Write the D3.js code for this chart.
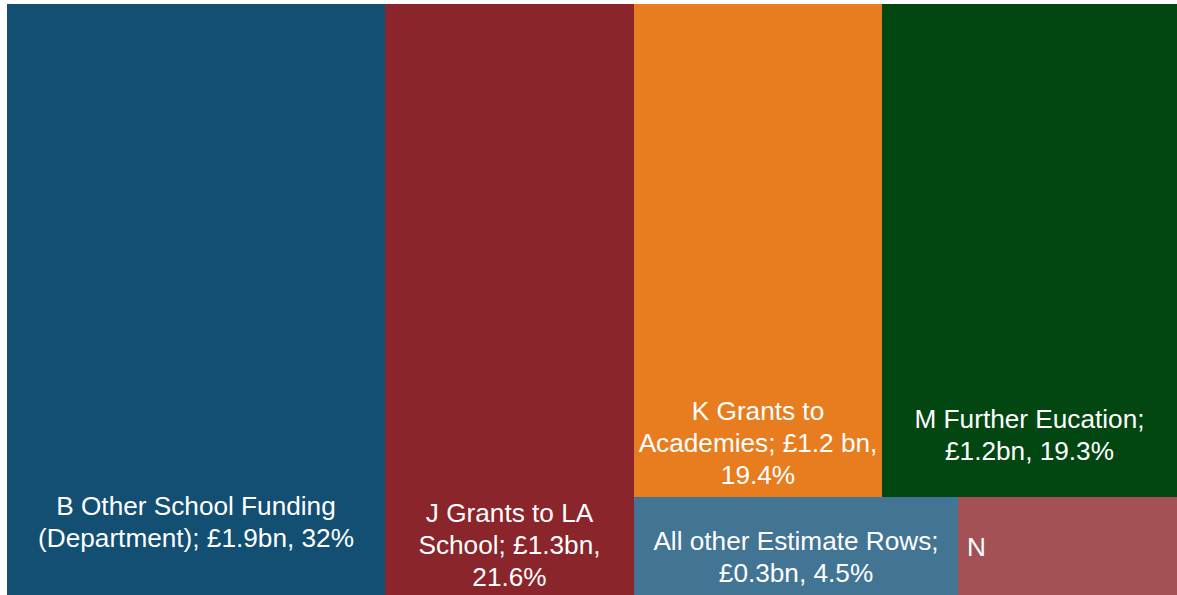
<!DOCTYPE html>
<html lang="en">
<head>
    <meta charset="utf-8">
    <title>Schools funding treemap</title>
    <script type="text/javascript" src="https://d3js.org/d3.v7.min.js"></script>
    <style>
        body { margin: 0; background: #ffffff; }
        svg { display: block; }
        .tile-label { font-family: "Liberation Sans", Arial, sans-serif; font-size: 26.2px; fill: #ffffff; }
    </style>
</head>
<body>
    <div id="viz"></div>

    <script type="text/javascript">
        // estimate rows
        const codes = ["B", "J", "K", "M", "Other", "N"];
        const labels = [
            ["B Other School Funding", "(Department); £1.9bn, 32%"],
            ["J Grants to LA", "School; £1.3bn,", "21.6%"],
            ["K Grants to", "Academies; £1.2 bn,", "19.4%"],
            ["M Further Eucation;", "£1.2bn, 19.3%"],
            ["All other Estimate Rows;", "£0.3bn, 4.5%"],
            ["N"]
        ];
        // share of the drawn area (%), measured off the tiles
        const tileShare = [32.3, 21.3, 17.7, 21.0, 4.6, 3.1];
        // which block each row sits in
        const blocks = [null, null, "top", "top", "bottom", "bottom"];

        const colors = ["#124f73", "#8a252b", "#e77d1f", "#024612", "#427494", "#a35155"];

        const width = 1177;
        const height = 595;
        const margin = {top: 4, left: 7, right: 0, bottom: 0};

        // label placement: baseline of first line above tile bottom
        const labelLift = {B: 80, J: 73, K: 77, M: 69, Other: 45, N: 39};
        const lineHeight = 32;

        // build nested data: B, J, then a block of two rows
        const rest = {name: "rest", children: []};
        const rootData = {name: "root", children: []};
        codes.forEach((c, i) => {
            const leaf = {name: c, value: tileShare[i], lines: labels[i], color: colors[i]};
            if (blocks[i] === null) {
                rootData.children.push(leaf);
            } else {
                let row = rest.children.find(r => r.name === blocks[i]);
                if (!row) {
                    row = {name: blocks[i], children: []};
                    rest.children.push(row);
                }
                row.children.push(leaf);
            }
        });
        rootData.children.push(rest);

        const root = d3.hierarchy(rootData).sum(d => d.value || 0);

        d3.treemap()
            .tile(d3.treemapSliceDice)
            .size([width - margin.left - margin.right, height - margin.top - margin.bottom])
            .paddingInner(0)
            .round(true)(root);

        const svg = d3.select("#viz")
            .append("svg")
            .attr("width", width)
            .attr("height", height);

        const g = svg.append("g")
            .attr("transform", `translate(${margin.left},${margin.top})`);

        const leaves = g.selectAll("g.tile")
            .data(root.leaves())
            .enter()
            .append("g")
            .attr("class", "tile");

        leaves.append("rect")
            .attr("x", d => d.x0)
            .attr("y", d => d.y0)
            .attr("width", d => d.x1 - d.x0)
            .attr("height", d => d.y1 - d.y0)
            .attr("fill", d => d.data.color)
            .attr("shape-rendering", "crispEdges");

        leaves.each(function(d) {
            const isN = d.data.name === "N";
            const text = d3.select(this).append("text")
                .attr("class", "tile-label")
                .attr("text-anchor", isN ? "start" : "middle");
            const x = isN ? d.x0 + 9 : (d.x0 + d.x1) / 2;
            const y = d.y1 - labelLift[d.data.name];
            d.data.lines.forEach((line, i) => {
                text.append("tspan")
                    .attr("x", x)
                    .attr("y", y + i * lineHeight)
                    .text(line);
            });
        });
    </script>
</body>
</html>
